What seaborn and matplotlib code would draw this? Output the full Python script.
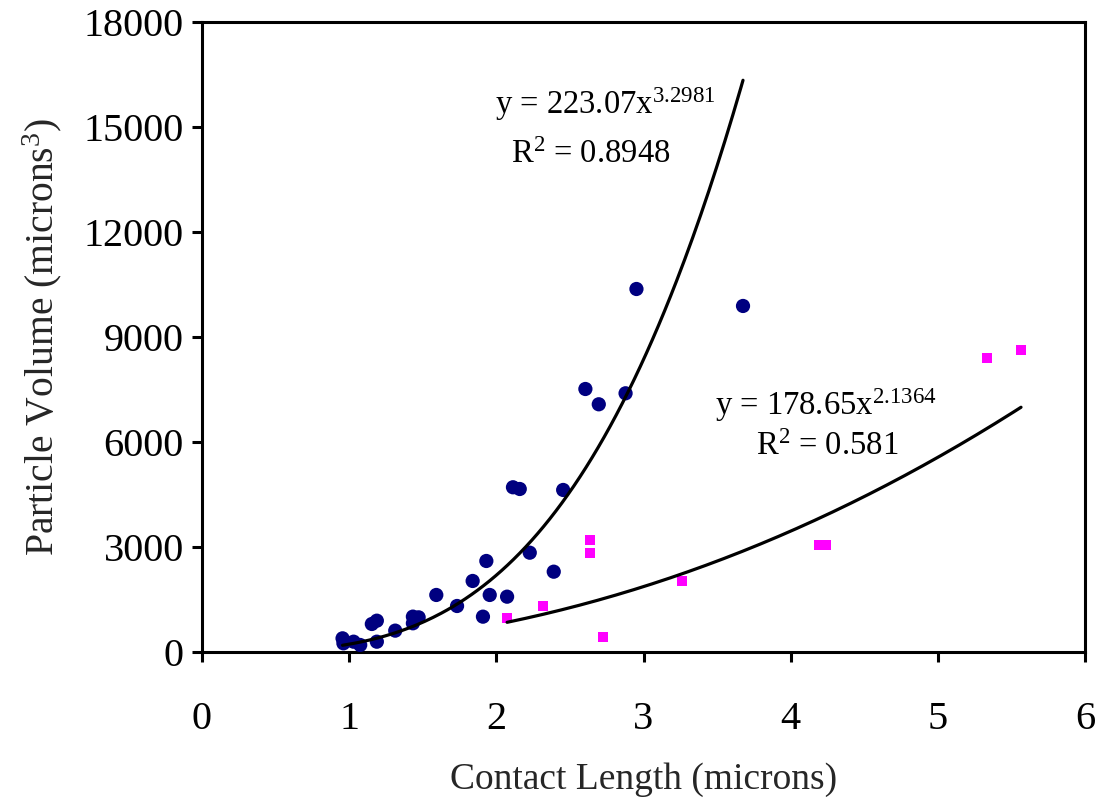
import numpy as np
import pandas as pd
import matplotlib
matplotlib.use("Agg")
import matplotlib.pyplot as plt
import seaborn as sns

# Wear particles: contact length (microns) vs particle volume (microns^3)
circle_length = [0.955, 0.961, 1.03, 1.075, 1.154, 1.188, 1.188, 1.313, 1.433, 1.472,
                 1.433, 1.592, 1.733, 1.839, 1.932, 1.909, 1.955, 2.073, 2.227, 2.390,
                 2.113, 2.159, 2.454, 2.605, 2.696, 2.878, 2.952, 3.676]
circle_volume = [390, 248, 294, 200, 800, 894, 294, 610, 1010, 990,
                 820, 1629, 1314, 2029, 2600, 1009, 1629, 1580, 2837, 2294,
                 4706, 4657, 4629, 7514, 7077, 7391, 10371, 9886]

square_length = [2.073, 2.318, 2.635, 2.635, 2.723, 3.263, 4.19, 4.24, 5.333, 5.565]
square_volume = [963, 1314, 3200, 2837, 437, 2037, 3057, 3057, 8409, 8629]

# Power-law trendlines y = a * x^b
fit_circle = (223.07, 3.2981, 0.8948)
fit_square = (178.65, 2.1364, 0.581)

x_ticks = [0, 1, 2, 3, 4, 5, 6]
y_ticks = [0, 3000, 6000, 9000, 12000, 15000, 18000]

sns.set_theme(style="white")
plt.rcParams["font.family"] = ["Liberation Serif", "DejaVu Serif"]
plt.rcParams["mathtext.fontset"] = "custom"
plt.rcParams["mathtext.rm"] = "Liberation Serif"
plt.rcParams["mathtext.it"] = "Liberation Serif:italic"

fig = plt.figure(figsize=(10.99, 7.99), dpi=100)
ax = fig.add_axes([0.1838, 0.184, 0.8035, 0.7885])

circles = pd.DataFrame({"length": circle_length, "volume": circle_volume})
squares = pd.DataFrame({"length": square_length, "volume": square_volume})

sns.scatterplot(data=circles, x="length", y="volume", ax=ax, color="#000080",
                marker="o", s=105, edgecolor="none", zorder=3)
sns.scatterplot(data=squares, x="length", y="volume", ax=ax, color="#FF00FF",
                marker="s", s=55, edgecolor="none", zorder=3)


def trend(lengths, coeffs):
    a, b, _ = coeffs
    xs = np.linspace(min(lengths), max(lengths), 200)
    return pd.DataFrame({"length": xs, "volume": a * xs ** b})


sns.lineplot(data=trend(circle_length, fit_circle), x="length", y="volume", ax=ax,
             color="black", linewidth=2.3, zorder=4)
sns.lineplot(data=trend(square_length, fit_square), x="length", y="volume", ax=ax,
             color="black", linewidth=2.3, zorder=4)

ann = dict(fontsize=23.5, ha="center", va="center", color="black")
ax.text(2.74, 15650, r"y = %.2fx$^{%.4f}$" % fit_circle[:2], **ann)
ax.text(2.64, 14200, r"R$^{2}$ = %.4f" % fit_circle[2], **ann)
ax.text(4.24, 7060, r"y = %.2fx$^{%.4f}$" % fit_square[:2], **ann)
ax.text(4.25, 5860, r"R$^{2}$ = %.3f" % fit_square[2], **ann)

ax.set_xlim(0, 6)
ax.set_ylim(0, 18000)
ax.set_xticks(x_ticks)
ax.set_yticks(y_ticks)
ax.set_xticklabels([str(t) for t in x_ticks])
ax.set_yticklabels([str(t) for t in y_ticks])

ax.set_xlabel("Contact Length (microns)", fontsize=27, labelpad=18)
ax.set_ylabel(r"Particle Volume (microns$^{3}$)", fontsize=28.5, labelpad=14)

for side in ["left", "bottom", "top", "right"]:
    ax.spines[side].set_visible(True)
    ax.spines[side].set_color("black")
    ax.spines[side].set_linewidth(2.2)

ax.tick_params(axis="x", direction="out", length=7, width=2.2, labelsize=29,
               pad=28, colors="black", bottom=True)
ax.tick_params(axis="y", direction="out", length=7, width=2.2, labelsize=29,
               pad=6, colors="black", left=True)
ax.grid(False)

fig.savefig("out.png", dpi=100, facecolor="white")
